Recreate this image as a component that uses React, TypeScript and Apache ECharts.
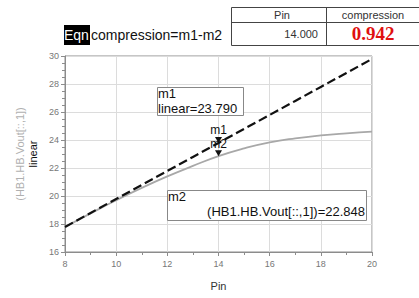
import React, { useEffect, useRef } from "react";
import * as echarts from "echarts";

const pin = [8, 9, 10, 11, 12, 13, 14, 15, 16, 17, 18, 19, 20];
const linearOut = [17.79, 18.79, 19.79, 20.79, 21.79, 22.79, 23.79, 24.79, 25.79, 26.79, 27.79, 28.79, 29.79];
const vout = [17.79, 18.76, 19.7, 20.58, 21.4, 22.15, 22.848, 23.4, 23.83, 24.12, 24.33, 24.48, 24.6];
const markerPin = 14;
const tableHeaders = ["Pin", "compression"];

export default function App() {
  const ref = useRef<HTMLDivElement>(null);
  useEffect(() => {
    if (!ref.current) return;
    const chart = echarts.init(ref.current, null, { renderer: "svg" });
    const idx = pin.indexOf(markerPin);
    const m1 = linearOut[idx];
    const m2 = vout[idx];
    const comp = m1 - m2;
    const font = "'Liberation Sans', Arial, sans-serif";
    chart.setOption({
      animation: false,
      textStyle: { fontFamily: font },
      grid: {
        left: 65, right: 47, top: 56, bottom: 46,
        show: true, borderColor: "#8c8c8c", borderWidth: 1,
      },
      xAxis: {
        type: "value", min: 8, max: 20, interval: 2,
        name: "Pin", nameLocation: "middle", nameGap: 28,
        nameTextStyle: { fontSize: 11, color: "#333" },
        axisLine: { show: true, lineStyle: { color: "#8c8c8c" } },
        axisTick: { show: true, length: 4, lineStyle: { color: "#8c8c8c" } },
        minorTick: { show: true, splitNumber: 2, length: 3, lineStyle: { color: "#8c8c8c" } },
        axisLabel: { fontSize: 9, color: "#777", margin: 7 },
        splitLine: { show: true, lineStyle: { color: "#dcdcdc", width: 1 } },
      },
      yAxis: {
        type: "value", min: 16, max: 30, interval: 2,
        name: "{a|(HB1.HB.Vout[::,1])}\n{b|linear}",
        nameLocation: "middle", nameGap: 26, nameRotate: 90,
        nameTextStyle: {
          rich: {
            a: { fontSize: 11, color: "#b0b0b0", lineHeight: 13, fontFamily: font },
            b: { fontSize: 11, color: "#111", lineHeight: 13, fontFamily: font },
          },
        },
        axisLine: { show: true, lineStyle: { color: "#8c8c8c" } },
        axisTick: { show: true, length: 4, lineStyle: { color: "#8c8c8c" } },
        minorTick: { show: true, splitNumber: 4, length: 3, lineStyle: { color: "#8c8c8c" } },
        axisLabel: { fontSize: 9, color: "#777", margin: 6 },
        splitLine: { show: true, lineStyle: { color: "#dcdcdc", width: 1 } },
      },
      series: [
        {
          type: "line", name: "linear",
          data: pin.map((p, i) => [p, linearOut[i]]),
          showSymbol: false, z: 3,
          lineStyle: { color: "#111", width: 2.2, type: [9, 4] },
          markPoint: {
            symbol: "triangle", symbolRotate: 180, symbolSize: [7, 6], symbolOffset: [0, -3],
            itemStyle: { color: "#111" },
            label: { show: true, position: "top", distance: 1, formatter: "m1", color: "#111", fontSize: 12, fontFamily: font },
            data: [{ coord: [markerPin, m1] }],
          },
        },
        {
          type: "line", name: "vout",
          data: pin.map((p, i) => [p, vout[i]]),
          showSymbol: false, smooth: true, z: 2,
          lineStyle: { color: "#a8a8a8", width: 1.8 },
          markPoint: {
            symbol: "triangle", symbolRotate: 180, symbolSize: [7, 6], symbolOffset: [0, -3],
            itemStyle: { color: "#111" },
            label: { show: true, position: "top", distance: 0, formatter: "m2", color: "#111", fontSize: 12, fontFamily: font },
            data: [{ coord: [markerPin, m2] }],
          },
        },
      ],
      graphic: [
        { type: "rect", z: 10, shape: { x: 157.5, y: 87.5, width: 86, height: 28 }, style: { fill: "#fff", stroke: "#888", lineWidth: 1 } },
        { type: "text", z: 11, x: 158, y: 87, style: { text: "m1", font: "13px " + font, fill: "#111" } },
        { type: "text", z: 11, x: 158, y: 102, style: { text: "linear=" + m1.toFixed(3), font: "13px " + font, fill: "#111" } },
        { type: "rect", z: 10, shape: { x: 167.5, y: 190.5, width: 199, height: 30 }, style: { fill: "#fff", stroke: "#888", lineWidth: 1 } },
        { type: "text", z: 11, x: 168, y: 190, style: { text: "m2", font: "13px " + font, fill: "#111" } },
        { type: "text", z: 11, x: 365, y: 205, style: { text: "(HB1.HB.Vout[::,1])=" + m2.toFixed(3), font: "13px " + font, fill: "#111", align: "right" } },
        { type: "rect", shape: { x: 64, y: 25, width: 26, height: 20 }, style: { fill: "#000" } },
        { type: "text", x: 64, y: 28, style: { text: "Eqn", font: "14px " + font, fill: "#fff" } },
        { type: "text", x: 91, y: 28, style: { text: "compression=m1-m2", font: "14px " + font, fill: "#111" } },
        { type: "rect", shape: { x: 231.5, y: 7.5, width: 200, height: 38 }, style: { fill: "none", stroke: "#444", lineWidth: 1 } },
        { type: "line", shape: { x1: 231, y1: 22.5, x2: 419, y2: 22.5 }, style: { stroke: "#444", lineWidth: 1 } },
        { type: "line", shape: { x1: 326.5, y1: 7, x2: 326.5, y2: 46 }, style: { stroke: "#444", lineWidth: 1 } },
        { type: "text", x: 282, y: 9, style: { text: tableHeaders[0], font: "11px " + font, fill: "#333", align: "center" } },
        { type: "text", x: 373, y: 9, style: { text: tableHeaders[1], font: "11px " + font, fill: "#333", align: "center" } },
        { type: "text", x: 318, y: 28, style: { text: markerPin.toFixed(3), font: "11px " + font, fill: "#333", align: "right" } },
        { type: "text", x: 373, y: 24, style: { text: comp.toFixed(3), font: "bold 19px 'Liberation Serif', 'Times New Roman', serif", fill: "#e01010", align: "center" } },
      ],
    });
    return () => chart.dispose();
  }, []);
  return <div ref={ref} style={{ position: "fixed", left: 0, top: 0, width: 419, height: 298, background: "#fff" }} />;
}
